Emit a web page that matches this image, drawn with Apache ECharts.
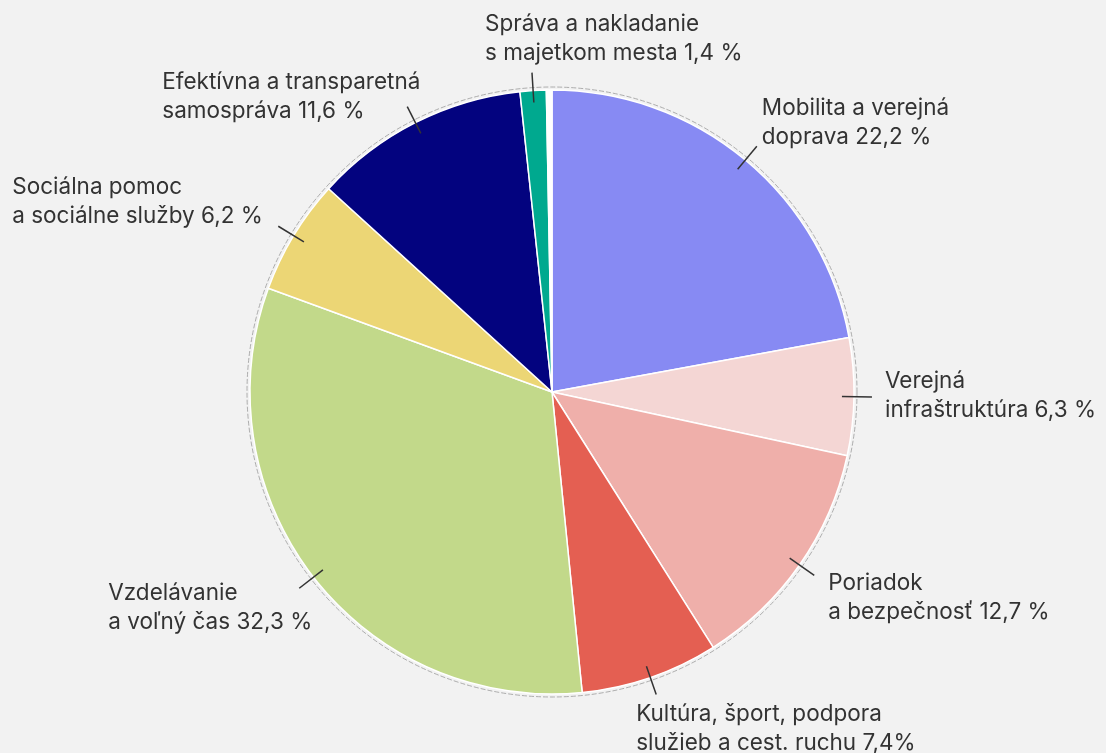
<!DOCTYPE html>
<html>
<head>
<meta charset="utf-8">
<title>Rozpočet podľa oblastí</title>
<script src="https://cdn.jsdelivr.net/npm/echarts@6.0.0/dist/echarts.min.js"></script>
<style>
    html, body { margin: 0; padding: 0; background: #f2f2f2; }
    #main { width: 1106px; height: 753px; }
</style>
</head>
<body>
<div id="main"></div>
<script>
// data, clockwise from 12 o'clock
const categories = [
    'Mobilita a verejná\ndoprava',
    'Verejná\ninfraštruktúra',
    'Poriadok\na bezpečnosť',
    'Kultúra, šport, podpora\nslužieb a cest. ruchu',
    'Vzdelávanie\na voľný čas',
    'Sociálna pomoc\na sociálne služby',
    'Efektívna a transparetná\nsamospráva',
    'Správa a nakladanie\ns majetkom mesta',
    ''
];
const shares = [22.2, 6.3, 12.7, 7.4, 32.3, 6.2, 11.6, 1.4, 0.3];
const pctSuffix = [' %', ' %', ' %', '%', ' %', ' %', ' %', ' %', ''];

const colors = ['#878af3', '#f4d6d4', '#efafaa', '#e45f52', '#c2d98a', '#ecd675', '#03037f', '#00a98f', '#ffffff'];

// where each text block sits, relative to the end of its leader line: [dx, dy of block top]
const labelOffsets = [
    [5, -52], [13, -30.5], [14, -6.5], [-20, 5.5],
    [-191, -9.5], [-266, -53.5], [-245, -38.5], [-47, -62.5], null
];

const CX = 552, CY = 392, R = 302;

const chart = echarts.init(document.getElementById('main'));

const pieData = categories.map((name, i) => ({
    name: name,
    value: shares[i],
    itemStyle: { color: colors[i] }
}));

const labelData = categories.map((name, i) => ({
    name: name,
    value: shares[i],
    label: { show: name !== '' },
    labelLine: { show: name !== '' }
}));

const option = {
    backgroundColor: '#f2f2f2',
    animation: false,
    graphic: [{
        type: 'circle',
        z: 0,
        silent: true,
        shape: { cx: CX, cy: CY, r: R + 3 },
        style: { fill: 'none', stroke: '#9a9a9a', lineWidth: 0.8, lineDash: [5, 2] }
    }],
    series: [
        {
            type: 'pie',
            z: 2,
            silent: true,
            center: [CX, CY],
            radius: R,
            startAngle: 90,
            clockwise: true,
            label: { show: false },
            labelLine: { show: false },
            itemStyle: { borderColor: '#ffffff', borderWidth: 1.5 },
            data: pieData
        },
        {
            // transparent copy, only to carry labels whose lines begin inside the slices
            type: 'pie',
            z: 3,
            silent: true,
            center: [CX, CY],
            radius: R - 12,
            startAngle: 90,
            clockwise: true,
            avoidLabelOverlap: false,
            itemStyle: { color: 'rgba(0,0,0,0)', borderWidth: 0 },
            label: {
                position: 'outside',
                color: '#333333',
                fontFamily: 'Inter',
                fontSize: 22.5,
                lineHeight: 29,
                formatter: p => p.name + ' ' + shares[p.dataIndex].toFixed(1).replace('.', ',') + pctSuffix[p.dataIndex]
            },
            labelLine: {
                length: 30,
                length2: 0,
                lineStyle: { color: '#333333', width: 1.5 }
            },
            labelLayout: function (p) {
                const off = labelOffsets[p.dataIndex];
                const pts = p.labelLinePoints;
                if (!off || !pts) return {};
                const end = pts[pts.length - 1];
                return {
                    x: end[0] + off[0],
                    y: end[1] + off[1],
                    align: 'left',
                    verticalAlign: 'top',
                    labelLinePoints: pts
                };
            },
            data: labelData
        }
    ]
};

chart.setOption(option);
</script>
</body>
</html>
